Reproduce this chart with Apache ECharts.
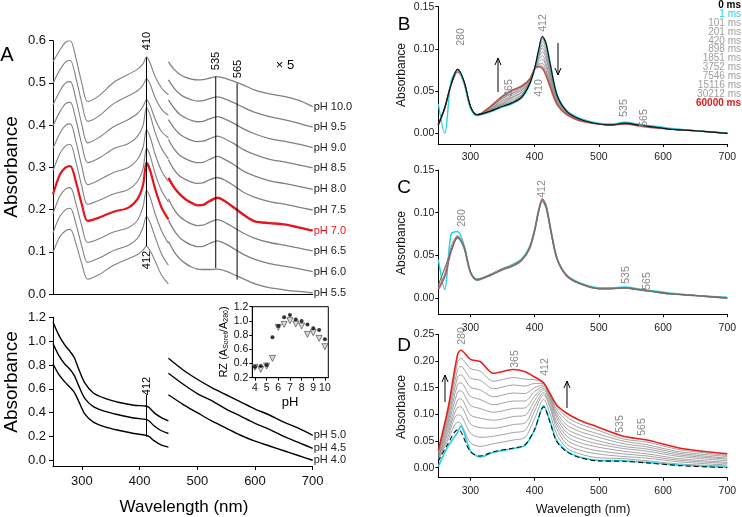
<!DOCTYPE html>
<html>
<head>
<meta charset="utf-8">
<script src="https://cdn.jsdelivr.net/npm/echarts@6/dist/echarts.min.js"></script>
<style>
html, body { margin: 0; padding: 0; background: #fff; }
#chart { width: 742px; height: 517px; }
</style>
</head>
<body>
<div id="chart"></div>
<script>
// ---------- panel A, top: offset spectra pH 10.0 .. 5.5 ----------
const phTop = ['pH 10.0', 'pH 9.5', 'pH 9.0', 'pH 8.5', 'pH 8.0', 'pH 7.5', 'pH 7.0', 'pH 6.5', 'pH 6.0', 'pH 5.5']
const wlLeft = [250, 262, 272, 280, 290, 300, 310, 330, 355, 380, 396, 406, 412, 418, 427, 438, 450]
const absLeft = [
  [.550, .578, .597, .600, .557, .499, .456, .470, .501, .520, .532, .545, .561, .548, .515, .488, .472],
  [.499, .531, .550, .553, .510, .452, .409, .422, .451, .469, .481, .495, .510, .498, .465, .438, .423],
  [.448, .481, .500, .503, .460, .401, .358, .371, .396, .413, .427, .444, .460, .448, .414, .385, .370],
  [.398, .432, .451, .454, .411, .354, .311, .322, .344, .356, .373, .399, .441, .425, .383, .345, .320],
  [.345, .381, .400, .403, .360, .302, .259, .270, .288, .299, .318, .347, .389, .373, .331, .292, .266],
  [.292, .333, .351, .354, .311, .255, .212, .222, .237, .247, .266, .297, .345, .329, .285, .245, .218],
  [.236, .283, .300, .303, .264, .212, .173, .181, .195, .204, .224, .258, .311, .294, .249, .205, .177],
  [.190, .232, .249, .252, .213, .161, .122, .131, .147, .157, .174, .207, .245, .230, .190, .150, .120],
  [.145, .184, .200, .203, .165, .113, .075, .085, .103, .115, .131, .158, .184, .170, .135, .095, .068],
  [.098, .136, .150, .153, .118, .071, .035, .046, .068, .083, .093, .104, .113, .103, .078, .045, .024]
]
const wlRight = [450, 460, 470, 480, 490, 500, 510, 520, 535, 550, 565, 580, 600, 625, 650, 675, 700]
const absRight = [
  [.550, .532, .520, .513, .509, .507, .508, .511, .515, .510, .503, .495, .483, .474, .468, .459, .444],
  [.507, .487, .473, .465, .460, .457, .458, .462, .467, .461, .452, .442, .430, .420, .413, .405, .395],
  [.460, .440, .425, .417, .411, .408, .409, .414, .420, .413, .403, .391, .379, .368, .362, .355, .347],
  [.413, .393, .378, .370, .364, .361, .362, .367, .374, .366, .355, .342, .330, .319, .313, .306, .299],
  [.366, .343, .328, .320, .314, .311, .312, .318, .326, .317, .305, .291, .279, .268, .262, .255, .248],
  [.318, .294, .279, .271, .265, .262, .263, .270, .276, .268, .255, .241, .229, .219, .213, .206, .199],
  [.275, .252, .236, .224, .216, .210, .211, .219, .228, .218, .203, .188, .172, .168, .165, .158, .150],
  [.225, .200, .183, .173, .166, .162, .163, .169, .176, .168, .156, .144, .132, .122, .116, .109, .102],
  [.175, .150, .133, .123, .116, .112, .113, .119, .126, .118, .106, .094, .082, .072, .066, .060, .053],
  [.125, .100, .083, .072, .064, .059, .058, .058, .059, .054, .045, .036, .024, .015, .010, .006, .003]
]
const redIndex = 6 // pH 7.0

// ---------- panel A, bottom: pH 5.0 / 4.5 / 4.0 ----------
const phLow = ['pH 5.0', 'pH 4.5', 'pH 4.0']
const wlLowL = [250, 260, 270, 280, 287, 295, 305, 320, 340, 365, 390, 410, 416, 425, 437, 450]
const absLowL = [
  [1.16, 1.05, .97, .91, .86, .76, .65, .565, .52, .485, .462, .456, .445, .40, .36, .33],
  [.98, .88, .81, .76, .71, .62, .52, .45, .41, .38, .355, .343, .332, .29, .25, .225],
  [.81, .72, .66, .61, .57, .49, .39, .32, .28, .25, .225, .21, .20, .165, .13, .11]
]
const wlLowR = [450, 475, 500, 525, 550, 575, 600, 625, 650, 675, 700]
const absLowR = [
  [.856, .76, .68, .61, .55, .49, .43, .38, .32, .27, .21],
  [.73, .64, .56, .50, .43, .37, .31, .26, .20, .15, .10],
  [.55, .47, .40, .33, .27, .21, .16, .12, .08, .04, .00]
]

// ---------- inset: RZ vs pH ----------
const rzPh = [4, 4.5, 5, 5.5, 6, 6.5, 7, 7.5, 8, 8.5, 9, 9.5, 10]
const rzDots = [.355, .364, .378, .768, .928, 1.05, 1.083, 1.02, .998, .951, .895, .871, .74]
const rzTris = [.346, .317, .364, .472, .909, .951, 1.003, .956, .928, .81, .834, .754, .637]

// ---------- panels B and C ----------
const msLabels = ['0 ms', '1 ms', '101 ms', '201 ms', '420 ms', '898 ms', '1851 ms', '3752 ms', '7546 ms', '15116 ms', '30212 ms', '60000 ms']
const wlB = [250, 260, 270, 280, 290, 300, 310, 330, 350, 365, 380, 392, 400, 406, 412, 418, 425, 435, 450, 470, 500, 520, 540, 560, 580, 610, 650, 700]
const bBlack = [.010, .030, .058, .076, .062, .032, .022, .026, .032, .036, .043, .058, .077, .098, .115, .106, .079, .045, .026, .017, .011, .010, .012, .010, .008, .005, .003, .000]
const bCyan = [.035, .000, .062, .074, .060, .030, .021, .025, .031, .035, .042, .057, .076, .097, .114, .106, .080, .046, .027, .018, .012, .011, .013, .011, .009, .006, .003, .000]
const bGrays = [
  [.010, .030, .058, .075, .061, .032, .022, .026, .033, .037, .044, .058, .077, .096, .112, .103, .077, .044, .026, .017, .011, .010, .012, .010, .008, .005, .003, .000],
  [.010, .030, .058, .075, .061, .032, .022, .027, .034, .038, .045, .059, .077, .095, .109, .100, .075, .043, .025, .017, .011, .010, .012, .010, .008, .005, .003, .000],
  [.010, .030, .058, .075, .061, .032, .022, .027, .035, .040, .046, .060, .077, .093, .105, .096, .072, .042, .025, .017, .011, .010, .012, .010, .008, .005, .003, .000],
  [.010, .030, .058, .075, .061, .032, .022, .028, .036, .042, .048, .060, .077, .091, .101, .092, .069, .041, .025, .017, .011, .010, .012, .010, .008, .005, .003, .000],
  [.010, .030, .058, .075, .061, .032, .022, .028, .038, .043, .049, .061, .077, .089, .097, .088, .067, .040, .024, .017, .011, .010, .012, .010, .008, .005, .003, .000],
  [.010, .030, .058, .075, .061, .032, .022, .029, .039, .045, .051, .062, .076, .087, .092, .083, .063, .038, .024, .017, .011, .010, .012, .010, .008, .005, .003, .000],
  [.010, .030, .058, .075, .061, .032, .022, .030, .041, .047, .052, .062, .076, .084, .088, .079, .060, .037, .023, .017, .011, .010, .012, .010, .008, .005, .003, .000],
  [.010, .030, .058, .075, .061, .032, .022, .030, .042, .048, .054, .063, .076, .082, .083, .074, .057, .036, .023, .017, .011, .010, .012, .010, .008, .005, .003, .000],
  [.010, .030, .058, .075, .061, .032, .022, .031, .043, .050, .055, .064, .076, .081, .080, .071, .055, .035, .022, .016, .011, .010, .011, .010, .008, .005, .003, .000]
]
const bRed = [.010, .030, .058, .073, .060, .031, .021, .031, .044, .051, .056, .064, .076, .079, .077, .068, .053, .034, .022, .015, .011, .010, .011, .009, .007, .005, .003, .000]

const cGray1 = [.012, .028, .060, .073, .058, .030, .021, .027, .034, .038, .045, .058, .078, .100, .115, .107, .080, .046, .026, .017, .011, .011, .012, .010, .008, .005, .003, .000]
const cGray2 = [.015, .035, .055, .070, .060, .031, .022, .026, .033, .037, .044, .059, .079, .101, .114, .106, .079, .045, .026, .017, .011, .011, .012, .010, .008, .005, .003, .000]
const cCyan = [.045, .010, .075, .078, .062, .031, .022, .027, .034, .039, .046, .060, .080, .101, .114, .105, .079, .046, .027, .018, .012, .012, .013, .011, .009, .006, .003, .001]
const cRed = [.010, .025, .055, .072, .060, .030, .021, .027, .034, .038, .045, .058, .079, .102, .116, .108, .081, .046, .026, .017, .011, .011, .012, .010, .008, .005, .003, .000]

// ---------- panel D ----------
const wlD = [250, 265, 280, 285, 300, 315, 336, 367, 385, 400, 414, 424, 434, 450, 470, 497, 538, 575, 625, 700]
const dBlack = [.012, .045, .071, .068, .030, .022, .030, .037, .043, .072, .114, .085, .050, .030, .019, .013, .012, .009, .004, .000]
const dCyan = [.002, .040, .066, .078, .032, .020, .029, .036, .042, .071, .116, .087, .052, .031, .020, .014, .013, .010, .005, .001]
const dGrays = [
  [.014, .052, .085, .083, .047, .040, .045, .052, .057, .092, .128, .101, .064, .037, .026, .019, .017, .013, .007, .003],
  [.016, .058, .099, .098, .065, .057, .059, .066, .070, .106, .137, .112, .074, .044, .033, .026, .021, .018, .011, .005],
  [.018, .065, .113, .114, .082, .075, .074, .081, .084, .116, .141, .117, .081, .052, .040, .032, .026, .022, .014, .008],
  [.020, .071, .127, .129, .099, .093, .089, .096, .098, .126, .146, .123, .087, .059, .047, .039, .031, .026, .017, .010],
  [.022, .078, .142, .144, .117, .111, .104, .111, .112, .134, .149, .127, .094, .066, .054, .045, .036, .031, .021, .013],
  [.025, .084, .156, .159, .134, .128, .118, .125, .125, .143, .152, .131, .099, .073, .061, .051, .040, .035, .024, .016],
  [.027, .091, .170, .174, .151, .146, .133, .140, .139, .150, .155, .134, .104, .080, .068, .058, .045, .039, .027, .018],
  [.029, .097, .184, .190, .168, .164, .148, .155, .153, .158, .157, .136, .110, .088, .075, .064, .050, .043, .030, .021],
  [.031, .104, .198, .205, .186, .181, .162, .169, .166, .165, .158, .138, .115, .095, .082, .071, .054, .048, .034, .023]
]
const dRed = [.033, .110, .212, .220, .203, .199, .177, .184, .180, .170, .159, .139, .118, .102, .089, .077, .059, .052, .037, .026]

const FONT = 'Liberation Sans, Arial, sans-serif'
const GRAY = '#808080'

const chart = echarts.init(document.getElementById('chart'))

const pairs = (xs, ys) => xs.map((x, i) => [x, ys[i]])

const line = (gi, xs, ys, color, width, extra) => Object.assign({
  type: 'line',
  xAxisIndex: gi,
  yAxisIndex: gi,
  data: pairs(xs, ys),
  showSymbol: false,
  smooth: 0.3,
  silent: true,
  lineStyle: { color: color, width: width },
  z: 2
}, extra || {})

const series = []

// A top
absLeft.forEach((ys, i) => {
  const red = i === redIndex
  series.push(line(0, wlLeft, ys, red ? '#e8141c' : GRAY, red ? 2.2 : 1.1, { z: red ? 4 : 2 }))
})
absRight.forEach((ys, i) => {
  const red = i === redIndex
  series.push(line(0, wlRight, ys, red ? '#e8141c' : GRAY, red ? 2.4 : 1.3, {
    name: phTop[i],
    z: red ? 4 : 2,
    endLabel: {
      show: true,
      formatter: p => p.seriesName,
      distance: 1,
      fontSize: 11,
      fontFamily: FONT,
      color: red ? '#e8141c' : '#222'
    }
  }))
})
// marker lines A top
const vline = (gi, x, y0, y1) => ({
  type: 'line', xAxisIndex: gi, yAxisIndex: gi, data: [[x, y0], [x, y1]],
  showSymbol: false, silent: true, lineStyle: { color: '#000', width: 1 }, z: 5
})
series.push(vline(0, 412, .561, .113))
series.push(vline(0, 532, .515, .061))
series.push(vline(0, 569, .499, .034))

// A bottom
absLowL.forEach(ys => series.push(line(1, wlLowL, ys, '#000', 1.4)))
absLowR.forEach((ys, i) => series.push(line(1, wlLowR, ys, '#000', 1.4, {
  name: phLow[i],
  endLabel: { show: true, formatter: p => p.seriesName, distance: 1, fontSize: 11, fontFamily: FONT, color: '#222' }
})))
series.push(vline(1, 412, .55, .198))

// inset
series.push({
  type: 'scatter', xAxisIndex: 2, yAxisIndex: 2, data: pairs(rzPh, rzTris),
  symbol: 'triangle', symbolRotate: 180, symbolSize: 6, silent: true,
  itemStyle: { color: '#cfcfcf', borderColor: '#222', borderWidth: 0.7 }
})
series.push({
  type: 'scatter', xAxisIndex: 2, yAxisIndex: 2, data: pairs(rzPh, rzDots),
  symbol: 'circle', symbolSize: 4, silent: true, itemStyle: { color: '#000' }
})

// B
bGrays.forEach(ys => series.push(line(3, wlB, ys, '#8c8c8c', 0.9)))
series.push(line(3, wlB, bRed, '#b9504c', 1.6, { z: 3 }))
series.push(line(3, wlB, bCyan, '#22d4e4', 1.4, { z: 3 }))
series.push(line(3, wlB, bBlack, '#111', 1.2, { z: 4 }))

// C
series.push(line(4, wlB, cCyan, '#22d4e4', 1.5))
series.push(line(4, wlB, cRed, '#b9504c', 1.6))
series.push(line(4, wlB, cGray1, '#8c8c8c', 1.1, { z: 3 }))
series.push(line(4, wlB, cGray2, '#6e6e6e', 1.1, { z: 3 }))

// D
dGrays.forEach(ys => series.push(line(5, wlD, ys, '#8c8c8c', 0.8)))
series.push(line(5, wlD, dRed, '#e8201c', 1.6, { z: 3 }))
series.push(line(5, wlD, dCyan, '#22d4e4', 1.6, { z: 3 }))
series.push(line(5, wlD, dBlack, '#111', 1.1, { z: 4, lineStyle: { color: '#111', width: 1.1, type: [5, 3] } }))

const axisLineStyle = { show: true, onZero: false, lineStyle: { color: '#000', width: 1 } }
const labelBase = { color: '#111', fontFamily: FONT }
const nmTicks = [300, 400, 500, 600, 700]

const xAxis = [
  { gridIndex: 0, type: 'value', min: 250, max: 700, axisLine: axisLineStyle, axisTick: { show: false }, axisLabel: { show: false }, splitLine: { show: false } },
  { gridIndex: 1, type: 'value', min: 250, max: 700, axisLine: axisLineStyle,
    axisTick: { length: 4, customValues: nmTicks, lineStyle: { color: '#000' } },
    axisLabel: Object.assign({ fontSize: 13, margin: 9, customValues: nmTicks }, labelBase), splitLine: { show: false } },
  { gridIndex: 2, type: 'value', min: 3.77, max: 10.29, axisLine: axisLineStyle,
    axisTick: { length: 3, customValues: [4, 5, 6, 7, 8, 9, 10], lineStyle: { color: '#000' } },
    axisLabel: Object.assign({ fontSize: 10.5, margin: 5, customValues: [4, 5, 6, 7, 8, 9, 10] }, labelBase), splitLine: { show: false } }
]
const yAxis = [
  { gridIndex: 0, type: 'value', min: 0, max: 0.6, interval: 0.1, axisLine: axisLineStyle,
    axisTick: { length: 4, lineStyle: { color: '#000' } },
    axisLabel: Object.assign({ fontSize: 13, margin: 7, formatter: v => v.toFixed(1) }, labelBase), splitLine: { show: false } },
  { gridIndex: 1, type: 'value', min: -0.048, max: 1.2, axisLine: axisLineStyle,
    axisTick: { length: 4, customValues: [0, .2, .4, .6, .8, 1.0, 1.2], lineStyle: { color: '#000' } },
    axisLabel: Object.assign({ fontSize: 13, margin: 7, customValues: [0, .2, .4, .6, .8, 1.0, 1.2], formatter: v => v.toFixed(1) }, labelBase), splitLine: { show: false } },
  { gridIndex: 2, type: 'value', min: 0.2, max: 1.2, interval: 0.2, axisLine: axisLineStyle,
    axisTick: { length: 3, lineStyle: { color: '#000' } },
    axisLabel: Object.assign({ fontSize: 10.5, margin: 4, formatter: v => v.toFixed(1) }, labelBase), splitLine: { show: false } }
]
const smallPanel = (gi, ymin, ymax, yt) => {
  xAxis.push({ gridIndex: gi, type: 'value', min: 250, max: 700, axisLine: axisLineStyle,
    axisTick: { length: 3, customValues: nmTicks, lineStyle: { color: '#000' } },
    axisLabel: Object.assign({ fontSize: 10.5, margin: 8, customValues: nmTicks }, labelBase, { color: '#222' }), splitLine: { show: false } })
  yAxis.push({ gridIndex: gi, type: 'value', min: ymin, max: ymax, axisLine: axisLineStyle,
    axisTick: { length: 3, customValues: yt, lineStyle: { color: '#000' } },
    axisLabel: Object.assign({ fontSize: 10.5, margin: 4, customValues: yt, formatter: v => v.toFixed(2) }, labelBase, { color: '#222' }), splitLine: { show: false } })
}
smallPanel(3, -0.0127, 0.15, [0, .05, .10, .15])
smallPanel(4, -0.019, 0.15, [0, .05, .10, .15])
smallPanel(5, -0.0187, 0.25, [0, .05, .10, .15, .20, .25])

const grid = [
  { left: 53, top: 40.7, width: 259.7, height: 253.3 },
  { left: 53, top: 317.3, width: 259.7, height: 148.7 },
  { left: 252.3, top: 306.7, width: 76, height: 71, show: true, borderColor: '#000', borderWidth: 1, backgroundColor: 'transparent' },
  { left: 438.3, top: 6.7, width: 289, height: 137.3 },
  { left: 438.3, top: 170, width: 289, height: 144.3 },
  { left: 438.3, top: 334.3, width: 289, height: 143.4 }
]

// texts and arrows
const txt = (x, y, text, size, color, rot, extra) => ({
  type: 'text', x: x, y: y, rotation: rot ? Math.PI / 2 : 0, silent: true, z: 10,
  style: Object.assign({ text: text, fontSize: size, fontFamily: FONT, fill: color || '#000', align: 'center', verticalAlign: 'middle' }, extra || {})
})
const arrow = (x, y0, y1) => {
  const dir = y1 < y0 ? 1 : -1
  return [
    { type: 'line', silent: true, z: 10, shape: { x1: x, y1: y0, x2: x, y2: y1 }, style: { stroke: '#000', lineWidth: 1 } },
    { type: 'polyline', silent: true, z: 10, shape: { points: [[x - 3, y1 + dir * 7], [x, y1], [x + 3, y1 + dir * 7]] }, style: { stroke: '#000', lineWidth: 1, fill: null } }
  ]
}
const graphic = [
  txt(7, 55, 'A', 20),
  txt(404, 25, 'B', 19),
  txt(404, 188, 'C', 19),
  txt(404, 346, 'D', 19),
  txt(12, 167, 'Absorbance', 19, '#000', true),
  txt(12, 382, 'Absorbance', 19, '#000', true),
  txt(184, 507, 'Wavelength (nm)', 17),
  txt(146.7, 41, '410', 11, '#000', true),
  txt(146.7, 260, '412', 11, '#000', true),
  txt(216, 61, '535', 11, '#000', true),
  txt(237.5, 69, '565', 11, '#000', true),
  txt(285, 65, '× 5', 13),
  txt(146.7, 386, '412', 11, '#000', true),
  txt(224, 342, 'RZ (A{s|Soret}/A{s|280})', 11, '#000', true, { rich: { s: { fontSize: 7, fontFamily: FONT, padding: [5, 0, 0, 0] } } }),
  txt(290, 402, 'pH', 13),
  txt(402, 75, 'Absorbance', 12, '#111', true),
  txt(402, 243, 'Absorbance', 12, '#111', true),
  txt(402, 407, 'Absorbance', 12, '#111', true),
  txt(583, 510, 'Wavelength (nm)', 12.5, '#111'),
  // B annotations
  txt(461, 37, '280', 10.5, '#888', true),
  txt(543, 23, '412', 10.5, '#888', true),
  txt(509, 88, '365', 10.5, '#888', true),
  txt(539, 88, '410', 10.5, '#888', true),
  txt(624, 108, '535', 10.5, '#888', true),
  txt(644, 118, '565', 10.5, '#888', true),
  // C annotations
  txt(542, 189, '412', 10.5, '#888', true),
  txt(462, 218, '280', 10.5, '#888', true),
  txt(626, 275, '535', 10.5, '#888', true),
  txt(647, 281, '565', 10.5, '#888', true),
  // D annotations
  txt(462, 336, '280', 10.5, '#888', true),
  txt(515, 359, '365', 10.5, '#888', true),
  txt(545, 367, '412', 10.5, '#888', true),
  txt(620, 424, '535', 10.5, '#888', true),
  txt(642, 427, '565', 10.5, '#888', true)
]
  .concat(arrow(498, 92, 58))
  .concat(arrow(558, 43, 75))
  .concat(arrow(445, 402, 375))
  .concat(arrow(567, 408, 381))

// legend of panel B
msLabels.forEach((t, i) => {
  let color = '#a0a0a0'
  let weight = 'normal'
  if (i === 0) { color = '#000'; weight = 'bold' }
  if (i === 1) { color = '#22d4e4' }
  if (i === msLabels.length - 1) { color = '#d42020'; weight = 'bold' }
  graphic.push(txt(741, 5 + i * 8.94, t, 10, color, false, { align: 'right', fontWeight: weight }))
})

chart.setOption({
  animation: false,
  backgroundColor: '#fff',
  grid: grid,
  xAxis: xAxis,
  yAxis: yAxis,
  series: series,
  graphic: graphic
})
</script>
</body>
</html>
